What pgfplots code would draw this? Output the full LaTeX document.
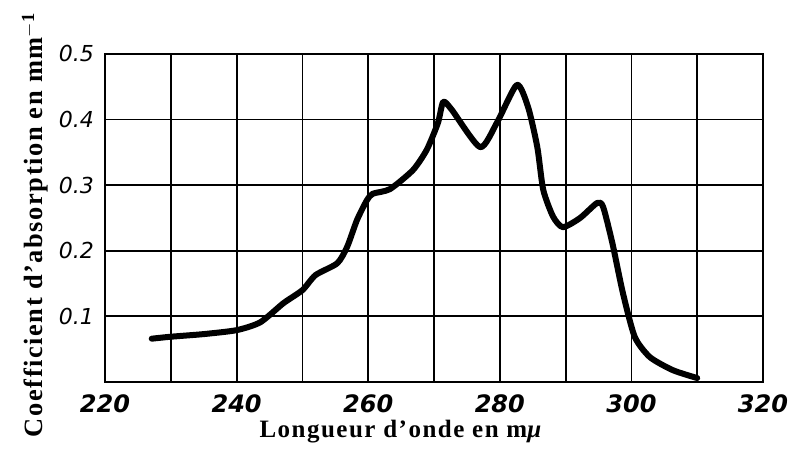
\documentclass[border=0pt]{standalone}
\usepackage{pgfplots}
\pgfplotsset{compat=1.18}
\usepackage{fontspec}
\setmainfont{Liberation Serif}
\newfontfamily\tickfont{DejaVu Sans}
\newfontfamily\labfont[LetterSpace=6]{Liberation Serif}
\begin{document}
\begin{tikzpicture}
\begin{axis}[
  scale only axis,
  width=329pt, height=164pt,
  xmin=220, xmax=320, ymin=0, ymax=0.5,
  xtick={220,240,...,320},
  minor xtick={230,250,...,310},
  ytick={0.1,0.2,0.3,0.4,0.5},
  grid=both,
  major grid style={black, line width=0.9pt},
  minor grid style={black, line width=0.9pt},
  axis line style={black, line width=1.1pt},
  major tick length=0pt, minor tick length=0pt,
  /pgf/number format/assume math mode=true,
  /pgf/number format/fixed, /pgf/number format/precision=1,
  xticklabel style={font=\tickfont\bfseries\itshape\fontsize{12}{12}\selectfont, yshift=-3pt},
  yticklabel style={font=\tickfont\itshape\fontsize{11}{11}\selectfont, xshift=-2pt},
  xlabel={Longueur d’onde en m\textit{μ}},
  ylabel={Coefficient d’absorption en mm$^{\mathbf{-1}}$},
  xlabel style={font=\labfont\bfseries\fontsize{12.5}{12.5}\selectfont, at={(axis description cs:0.45,-0.152)}, anchor=center},
  ylabel style={font=\labfont\bfseries\fontsize{13.2}{13.2}\selectfont, at={(axis description cs:-0.106,0.479)}, anchor=center},
]
\addplot[black, line width=3pt, smooth, tension=0.4, line cap=round, line join=round] coordinates {
(227.1,0.066) (230,0.069) (235,0.073) (240,0.079) (243.6,0.091) (247.1,0.120)
(250,0.140) (252,0.163) (255.3,0.181) (256.8,0.206) (258.3,0.247) (259.8,0.277)
(260.7,0.287) (263.3,0.294) (266.8,0.323) (268.9,0.354) (270.6,0.395) (271.4,0.427)
(272.7,0.415) (277.0,0.358) (279.6,0.396) (282.6,0.453) (284.3,0.419) (285.7,0.358)
(286.6,0.293) (288.1,0.252) (289.6,0.236) (292.2,0.250) (294.8,0.273) (295.7,0.267)
(297.1,0.212) (298.7,0.136) (300.5,0.069) (302.8,0.038) (306.3,0.018) (310,0.006)
};
\end{axis}
\pgfresetboundingbox
\path ([shift={(-52.5pt,-34pt)}]current axis.south west) rectangle ([shift={(14pt,27pt)}]current axis.north east);
\end{tikzpicture}
\end{document}
